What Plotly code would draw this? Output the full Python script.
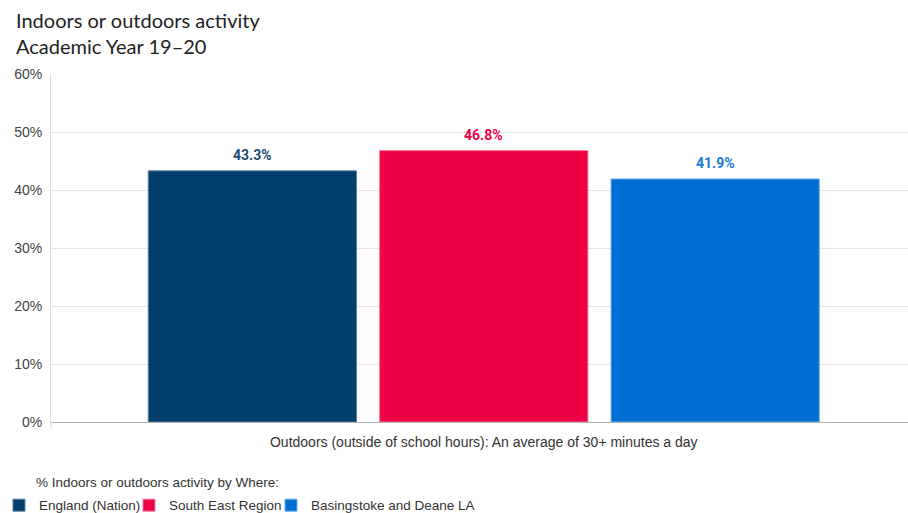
import plotly.graph_objects as go

category = ["Outdoors (outside of school hours): An average of 30+ minutes a day"]
series_names = ["England (Nation)", "South East Region", "Basingstoke and Deane LA"]
england = [43.3]
south_east = [46.8]
basingstoke = [41.9]
title_lines = ["Indoors or outdoors activity", "Academic Year 19–20"]
legend_title = "% Indoors or outdoors activity by Where:"

bar_colors = ["#003f6b", "#ee0047", "#006dd2"]
label_colors = ["#1a4a78", "#ee0047", "#1a7ad6"]
line_colors = ["#5f7f9c", "#f47a98", "#6aaef0"]

BARGAP = 0.19
BARGROUPGAP = 0.1
legend_names = ["legend", "legend2", "legend3"]
legend_x = [-0.0607, 0.0910, 0.2567]

series_values = [england, south_east, basingstoke]
n = len(series_names)
slot = (1 - BARGAP) / n

fig = go.Figure()
annotations = []
for i, (name, vals, c, lc, ln, lg) in enumerate(zip(series_names, series_values,
                                                   bar_colors, label_colors, line_colors,
                                                   legend_names)):
    fig.add_trace(go.Bar(
        x=category, y=vals, name=name, legend=lg,
        marker=dict(color=c, line=dict(color=ln, width=1)),
    ))
    for k, v in enumerate(vals):
        annotations.append(dict(
            text=f"{v:.1f}%", xref="x", yref="y",
            x=k + (i - (n - 1) / 2) * slot, y=v, yshift=15.5,
            xanchor="center", yanchor="middle", showarrow=False,
            font=dict(family="Roboto, Arial", size=14, color=lc, weight="bold"),
        ))

annotations += [
    dict(text=title_lines[0], xref="paper", yref="paper", x=-0.0432, y=1.1552,
         xanchor="left", yanchor="middle", showarrow=False,
         font=dict(family="Lato, Open Sans, sans-serif", size=20, color="#222222")),
    dict(text=title_lines[1], xref="paper", yref="paper", x=-0.0432, y=1.0805,
         xanchor="left", yanchor="middle", showarrow=False,
         font=dict(family="Lato, Open Sans, sans-serif", size=20, color="#222222")),
    dict(text=legend_title, xref="paper", yref="paper", x=-0.0198, y=-0.175,
         xanchor="left", yanchor="middle", showarrow=False,
         font=dict(family="Liberation Sans, Arial", size=13.5, color="#333333")),
]

legend_common = dict(orientation="h", xanchor="left", y=-0.195, yanchor="top",
                     font=dict(size=13.5, color="#333333"),
                     itemclick=False, itemdoubleclick=False, bgcolor="rgba(0,0,0,0)")

fig.update_layout(
    width=908, height=513,
    margin=dict(l=51, r=0, t=74, b=91, autoexpand=False),
    paper_bgcolor="white", plot_bgcolor="white",
    barmode="group", bargap=BARGAP, bargroupgap=BARGROUPGAP,
    font=dict(family="Liberation Sans, Arial", size=13.5, color="#333333"),
    annotations=annotations,
    shapes=[dict(type="line", xref="paper", yref="paper", x0=0, x1=0, y0=0, y1=-0.023,
                 line=dict(color="#dddddd", width=1))],
    yaxis=dict(
        range=[0, 60], dtick=10, ticksuffix="%",
        showgrid=True, gridcolor="#e6e6e6", gridwidth=1,
        showline=True, linecolor="#dddddd", linewidth=1,
        zeroline=False, ticks="", ticklabelstandoff=5,
        tickfont=dict(size=14, color="#444444"),
    ),
    xaxis=dict(
        range=[-0.505, 0.495],
        showline=True, linecolor="#b3b3b3", linewidth=1,
        tickfont=dict(size=14, color="#333333"),
        ticks="", ticklabelstandoff=7,
    ),
    legend=dict(x=legend_x[0], **legend_common),
    legend2=dict(x=legend_x[1], **legend_common),
    legend3=dict(x=legend_x[2], **legend_common),
    showlegend=True,
)

fig.write_html("out.html")
